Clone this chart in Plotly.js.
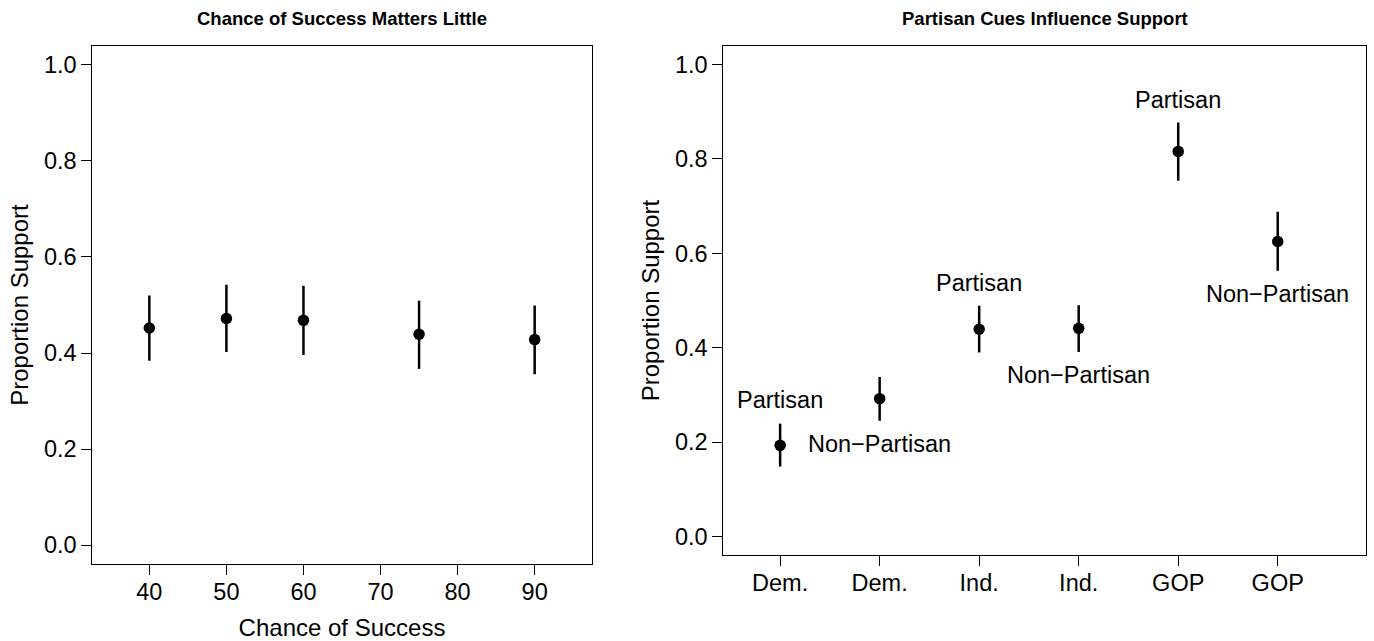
<!DOCTYPE html>
<html>
<head>
<meta charset="utf-8">
<script src="https://cdn.plot.ly/plotly-3.0.1.min.js"></script>
<style>html,body{margin:0;padding:0;background:#fff;}#chart{width:1374px;height:641px;}</style>
</head>
<body>
<div id="chart"></div>
<script>
// Left panel data
var chance = [40, 50, 60, 75, 90];
var chanceMean = [0.452, 0.472, 0.468, 0.439, 0.428];
var chanceLo = [0.384, 0.402, 0.396, 0.367, 0.356];
var chanceHi = [0.520, 0.542, 0.540, 0.509, 0.499];

// Right panel data
var cuePos = [1, 2, 3, 4, 5, 6];
var cueParty = ['Dem.', 'Dem.', 'Ind.', 'Ind.', 'GOP', 'GOP'];
var cueType = ['Partisan', 'Non\u2212Partisan', 'Partisan', 'Non\u2212Partisan', 'Partisan', 'Non\u2212Partisan'];
var cueMean = [0.193, 0.292, 0.439, 0.441, 0.816, 0.625];
var cueLo = [0.148, 0.245, 0.390, 0.391, 0.754, 0.563];
var cueHi = [0.239, 0.338, 0.489, 0.490, 0.877, 0.688];
var cueLabelY = [0.289, 0.196, 0.537, 0.342, 0.925, 0.513];

var yTicks = [0, 0.2, 0.4, 0.6, 0.8, 1.0];
var yTickText = ['0.0', '0.2', '0.4', '0.6', '0.8', '1.0'];
var xTicks = [40, 50, 60, 70, 80, 90];

var FONT = 'Liberation Sans, Arial, Helvetica, sans-serif';
var TXT = 23.5;

function errs(mean, lo, hi) {
  return {
    plus: hi.map(function (h, i) { return h - mean[i]; }),
    minus: lo.map(function (l, i) { return mean[i] - l; })
  };
}
var e1 = errs(chanceMean, chanceLo, chanceHi);
var e2 = errs(cueMean, cueLo, cueHi);

var traces = [
  {
    x: chance, y: chanceMean, type: 'scatter', mode: 'markers',
    xaxis: 'x', yaxis: 'y',
    marker: {color: 'black', size: 11.5},
    error_y: {type: 'data', symmetric: false, array: e1.plus, arrayminus: e1.minus,
              width: 0, thickness: 2.5, color: 'black'},
    showlegend: false, hoverinfo: 'x+y'
  },
  {
    x: cuePos, y: cueMean, type: 'scatter', mode: 'markers',
    xaxis: 'x2', yaxis: 'y2',
    marker: {color: 'black', size: 11.5},
    error_y: {type: 'data', symmetric: false, array: e2.plus, arrayminus: e2.minus,
              width: 0, thickness: 2.5, color: 'black'},
    showlegend: false, hoverinfo: 'y'
  }
];

var annotations = [
  {text: '<b>Chance of Success Matters Little</b>', xref: 'paper', yref: 'paper',
   x: 342 / 1374, y: 1 - 18 / 641, xanchor: 'center', yanchor: 'middle', showarrow: false,
   font: {family: FONT, size: 18.5, color: 'black'}},
  {text: '<b>Partisan Cues Influence Support</b>', xref: 'paper', yref: 'paper',
   x: 1044.6 / 1374, y: 1 - 18 / 641, xanchor: 'center', yanchor: 'middle', showarrow: false,
   font: {family: FONT, size: 18.5, color: 'black'}}
];
cuePos.forEach(function (p, i) {
  annotations.push({
    text: cueType[i], x: p, y: cueLabelY[i], xref: 'x2', yref: 'y2',
    xanchor: 'center', yanchor: 'middle', showarrow: false,
    font: {family: FONT, size: TXT, color: 'black'}
  });
});

var axisCommon = {
  showline: true, mirror: true, linecolor: 'black', linewidth: 1,
  ticks: 'outside', ticklen: 10, tickwidth: 1, tickcolor: 'black',
  showgrid: false, zeroline: false,
  tickfont: {family: FONT, size: TXT, color: 'black'}
};

function merge(a, b) { var o = {}; for (var k in a) o[k] = a[k]; for (var k2 in b) o[k2] = b[k2]; return o; }

var layout = {
  width: 1374, height: 641,
  margin: {l: 0, r: 0, t: 0, b: 0},
  paper_bgcolor: 'white', plot_bgcolor: 'white',
  font: {family: FONT, color: 'black'},
  xaxis: merge(axisCommon, {
    domain: [92.3 / 1374, 591.7 / 1374], range: [32.6, 97.4],
    tickvals: xTicks, anchor: 'y', ticklabelstandoff: -4,
    title: {text: 'Chance of Success', font: {family: FONT, size: 24, color: 'black'}, standoff: 16}
  }),
  yaxis: merge(axisCommon, {
    domain: [1 - 564.3 / 641, 1 - 45.7 / 641], range: [-0.04, 1.04],
    tickvals: yTicks, ticktext: yTickText, anchor: 'x',
    title: {text: 'Proportion Support', font: {family: FONT, size: 24, color: 'black'}, standoff: 8}
  }),
  xaxis2: merge(axisCommon, {
    domain: [723.4 / 1374, 1365.8 / 1374], range: [0.43, 6.885],
    tickvals: cuePos, ticktext: cueParty, anchor: 'y2', ticklabelstandoff: -4
  }),
  yaxis2: merge(axisCommon, {
    domain: [1 - 555.3 / 641, 1 - 45.7 / 641], range: [-0.04, 1.04],
    tickvals: yTicks, ticktext: yTickText, anchor: 'x2',
    title: {text: 'Proportion Support', font: {family: FONT, size: 24, color: 'black'}, standoff: 8}
  }),
  annotations: annotations
};

Plotly.newPlot('chart', traces, layout, {displayModeBar: false, staticPlot: true});
</script>
</body>
</html>
